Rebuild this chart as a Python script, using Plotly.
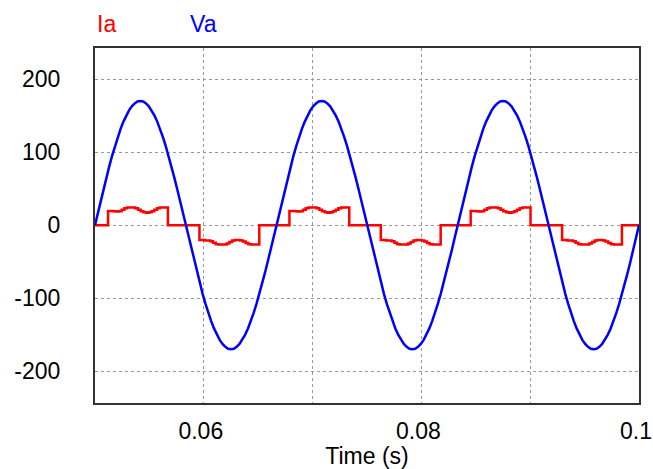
import numpy as np
import plotly.graph_objects as go

# ---- Data ----
VA_T0 = 0.05
VA_DT = 1 / 3840  # sample spacing of Va (s)
VA_VALUES = [
    0, 16.7, 33.2, 49.4, 65.1, 80.1, 94.4, 107.9, 120.2, 131.4, 141.4, 149.9, 157.1, 162.7, 166.7, 169.2,
    170, 169.2, 166.7, 162.7, 157.1, 149.9, 141.4, 131.4, 120.2, 107.9, 94.4, 80.1, 65.1, 49.4, 33.2, 16.7,
    0, -16.7, -33.2, -49.4, -65.1, -80.1, -94.4, -107.9, -120.2, -131.4, -141.4, -149.9, -157.1, -162.7, -166.7, -169.2,
    -170, -169.2, -166.7, -162.7, -157.1, -149.9, -141.4, -131.4, -120.2, -107.9, -94.4, -80.1, -65.1, -49.4, -33.2, -16.7,
    0, 16.7, 33.2, 49.4, 65.1, 80.1, 94.4, 107.9, 120.2, 131.4, 141.4, 149.9, 157.1, 162.7, 166.7, 169.2,
    170, 169.2, 166.7, 162.7, 157.1, 149.9, 141.4, 131.4, 120.2, 107.9, 94.4, 80.1, 65.1, 49.4, 33.2, 16.7,
    0, -16.7, -33.2, -49.4, -65.1, -80.1, -94.4, -107.9, -120.2, -131.4, -141.4, -149.9, -157.1, -162.7, -166.7, -169.2,
    -170, -169.2, -166.7, -162.7, -157.1, -149.9, -141.4, -131.4, -120.2, -107.9, -94.4, -80.1, -65.1, -49.4, -33.2, -16.7,
    0, 16.7, 33.2, 49.4, 65.1, 80.1, 94.4, 107.9, 120.2, 131.4, 141.4, 149.9, 157.1, 162.7, 166.7, 169.2,
    170, 169.2, 166.7, 162.7, 157.1, 149.9, 141.4, 131.4, 120.2, 107.9, 94.4, 80.1, 65.1, 49.4, 33.2, 16.7,
    0, -16.7, -33.2, -49.4, -65.1, -80.1, -94.4, -107.9, -120.2, -131.4, -141.4, -149.9, -157.1, -162.7, -166.7, -169.2,
    -170, -169.2, -166.7, -162.7, -157.1, -149.9, -141.4, -131.4, -120.2, -107.9, -94.4, -80.1, -65.1, -49.4, -33.2, -16.7,
    0,
]

IA_DT = 0.00025  # sample spacing within a current pulse (s)
IA_POS_ON = [0.0512, 0.06787, 0.08453]   # start of positive pulses (s)
IA_NEG_ON = [0.0596, 0.07627, 0.09293]   # start of negative pulses (s)
IA_POS_SHAPE = [19.5, 19.5, 19, 18.5, 19, 21, 23, 24, 24, 24, 23, 21, 19, 17.5, 17, 17.5, 19, 21, 23, 24, 24, 24]
IA_NEG_SHAPE = [-20.5, -20.5, -21, -21, -22, -24, -26, -26.5, -26.5, -26.5, -25, -23, -21, -20.5, -20.5, -21,
                -22.5, -24.5, -26, -26.5, -26.5, -26.5]

X_TICKS = [0.05, 0.06, 0.07, 0.08, 0.09, 0.1]
X_TICK_TEXT = ["", "0.06", "", "0.08", "", "0.1"]
Y_TICKS = [-200, -100, 0, 100, 200]
Y_TICK_TEXT = ["-200", "-100", "0", "100", "200"]

# ---- Build traces ----
va_t = VA_T0 + np.arange(len(VA_VALUES)) * VA_DT

ia_t = [0.05]
ia_v = [0]
for pos_on, neg_on in zip(IA_POS_ON, IA_NEG_ON):
    for j, v in enumerate(IA_POS_SHAPE):
        ia_t.append(pos_on + j * IA_DT)
        ia_v.append(v)
    ia_t.append(pos_on + len(IA_POS_SHAPE) * IA_DT)
    ia_v.append(0)
    for j, v in enumerate(IA_NEG_SHAPE):
        ia_t.append(neg_on + j * IA_DT)
        ia_v.append(v)
    ia_t.append(neg_on + len(IA_NEG_SHAPE) * IA_DT)
    ia_v.append(0)
ia_t.append(0.1)
ia_v.append(0)

FONT = "Liberation Sans, Arial, sans-serif"
FS = 23

fig = go.Figure()
fig.add_trace(go.Scatter(x=ia_t, y=ia_v, mode="lines", line=dict(color="#ff0000", width=2.5, shape="hv"), name="Ia"))
fig.add_trace(go.Scatter(x=va_t, y=VA_VALUES, mode="lines", line=dict(color="#0000ff", width=2.5), name="Va"))

fig.update_layout(
    width=653, height=469,
    margin=dict(l=95, r=14, t=48, b=66),
    paper_bgcolor="white", plot_bgcolor="white",
    showlegend=False,
    font=dict(family=FONT, size=FS, color="black"),
)
fig.update_xaxes(
    range=[0.05, 0.1], tickvals=X_TICKS, ticktext=X_TICK_TEXT,
    showgrid=True, gridcolor="#999999", griddash="dot", gridwidth=1,
    showline=True, mirror=True, linecolor="#333333", linewidth=2,
    ticks="outside", ticklen=6, tickcolor="rgba(0,0,0,0)", ticklabeloverflow="allow",
    ticklabelshift=-3,
    zeroline=False, automargin=False,
    title=dict(text="Time (s)", standoff=2, font=dict(size=FS)),
)
fig.update_yaxes(
    range=[-243.5, 242.5], tickvals=Y_TICKS, ticktext=Y_TICK_TEXT,
    showgrid=True, gridcolor="#999999", griddash="dot", gridwidth=1,
    showline=True, mirror=True, linecolor="#333333", linewidth=2,
    ticks="outside", ticklen=28, tickcolor="rgba(0,0,0,0)",
    zeroline=False, automargin=False,
)
fig.add_annotation(text="Ia", xref="paper", yref="paper", x=0.0, y=1.068, xanchor="left", yanchor="middle",
                   showarrow=False, font=dict(color="#ff0000", size=FS, family=FONT))
fig.add_annotation(text="Va", xref="paper", yref="paper", x=0.171, y=1.068, xanchor="left", yanchor="middle",
                   showarrow=False, font=dict(color="#0000ff", size=FS, family=FONT))

fig.write_html("out.html")
